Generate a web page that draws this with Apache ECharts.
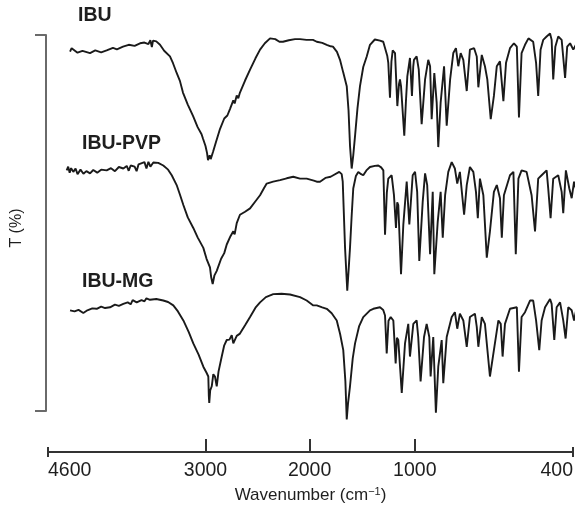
<!DOCTYPE html>
<html>
<head>
<meta charset="utf-8">
<script src="https://cdn.jsdelivr.net/npm/echarts@6/dist/echarts.min.js"></script>
<style>html,body{margin:0;padding:0;background:#fff}#c{width:584px;height:509px}</style>
</head>
<body>
<div id="c"></div>
<script>
// ---- DATA: [wavenumber (cm-1), T (%) incl. stacking offset] ----
const ibuSpectrum = [[4376,95.6],[4360,96.5],[4343,96.1],[4300,95.3],[4250,95.8],[4173,95.2],[4120,95.9],[4060,95.4],[4004,95.9],[3940,96.6],[3900,96.2],[3838,96.9],[3780,97.4],[3720,97.1],[3665,97.8],[3620,98.0],[3580,97.6],[3560,98.6],[3545,96.8],[3533,98.5],[3500,98.3],[3462,97.4],[3420,95.8],[3361,94.3],[3330,92.5],[3293,89.9],[3260,87.8],[3229,84.7],[3180,81.5],[3127,78.5],[3080,75.5],[3040,73.6],[3025,72.4],[3000,70.5],[2985,68.6],[2976,66.7],[2960,68.0],[2950,67.0],[2928,68.9],[2900,71.5],[2861,75.0],[2820,77.8],[2790,78.6],[2765,80.3],[2733,82.6],[2720,81.8],[2700,83.9],[2685,83.2],[2669,84.7],[2620,87.9],[2572,90.8],[2520,93.8],[2476,96.1],[2430,97.8],[2380,99.1],[2330,98.9],[2290,98.2],[2256,98.2],[2200,98.6],[2140,98.9],[2092,98.9],[2030,98.7],[1968,98.7],[1932,98.2],[1880,97.9],[1837,97.4],[1800,97.0],[1778,96.9],[1740,95.5],[1711,93.4],[1680,90.0],[1647,86.4],[1630,80.0],[1616,70.6],[1600,64.5],[1585,68.0],[1568,73.2],[1545,80.5],[1521,86.4],[1490,91.5],[1457,94.3],[1426,97.4],[1380,98.8],[1331,98.5],[1300,98.2],[1283,97.8],[1262,94.5],[1252,92.6],[1236,83.3],[1222,93.0],[1210,95.9],[1188,95.2],[1166,81.1],[1150,87.0],[1141,88.2],[1131,86.4],[1100,73.2],[1085,82.0],[1071,89.0],[1046,93.9],[1027,83.8],[1015,91.5],[1008,93.4],[993,94.3],[985,90.8],[974,76.3],[961,88.2],[949,93.4],[942,91.7],[936,77.6],[926,89.9],[917,82.0],[911,70.2],[902,82.0],[889,91.7],[879,75.9],[866,88.2],[854,95.2],[844,96.5],[835,91.7],[826,95.2],[816,93.4],[803,85.1],[791,96.1],[775,96.5],[765,94.3],[759,86.1],[746,94.7],[734,91.7],[725,88.2],[712,77.6],[700,83.8],[689,91.7],[677,93.0],[664,82.4],[654,92.6],[639,96.5],[624,97.8],[613,96.9],[605,78.1],[595,95.2],[582,97.4],[569,99.1],[551,98.2],[540,92.6],[532,83.8],[523,96.1],[513,98.7],[500,99.6],[487,100.4],[481,98.7],[475,88.2],[467,96.9],[456,99.6],[443,98.7],[430,88.6],[422,96.9],[411,97.8],[399,96.1],[386,97.8],[371,95.6],[361,89.9]];

const ibuPvpSpectrum = [[4410,64.0],[4395,65.0],[4380,63.4],[4365,64.6],[4343,63.6],[4320,64.5],[4300,63.0],[4270,64.2],[4240,63.1],[4210,63.8],[4173,63.2],[4140,64.1],[4100,63.4],[4060,64.2],[4004,64.0],[3960,64.6],[3920,63.8],[3880,64.9],[3835,64.5],[3800,65.2],[3780,63.9],[3760,65.3],[3720,65.0],[3700,63.8],[3680,65.6],[3665,65.3],[3620,66.2],[3600,64.5],[3580,66.3],[3560,65.0],[3530,66.1],[3480,66.0],[3429,65.3],[3380,64.2],[3343,62.7],[3293,60.1],[3260,57.6],[3225,54.8],[3180,51.5],[3124,48.7],[3080,46.2],[3022,43.4],[2990,40.5],[2957,38.2],[2945,35.5],[2931,33.8],[2915,36.0],[2892,37.3],[2850,40.5],[2820,42.0],[2796,44.3],[2760,46.5],[2733,47.8],[2720,47.0],[2700,50.0],[2669,52.2],[2620,53.0],[2572,53.9],[2520,55.8],[2476,57.4],[2440,59.2],[2412,60.5],[2350,61.0],[2284,61.4],[2220,61.9],[2157,62.3],[2092,61.8],[2028,61.8],[1960,61.3],[1932,61.0],[1901,61.0],[1850,62.0],[1800,62.3],[1775,62.7],[1718,63.6],[1695,63.0],[1685,61.0],[1663,43.4],[1642,32.0],[1628,38.0],[1616,43.4],[1600,52.0],[1585,59.2],[1560,62.5],[1537,63.6],[1510,63.0],[1490,62.7],[1460,64.0],[1426,64.9],[1380,65.2],[1347,65.3],[1320,64.8],[1299,64.0],[1283,46.9],[1266,58.0],[1252,61.8],[1220,62.7],[1198,57.4],[1179,48.7],[1167,55.5],[1157,54.8],[1131,36.4],[1109,49.6],[1077,61.0],[1052,49.6],[1020,62.7],[999,63.6],[991,58.3],[983,39.9],[970,55.7],[961,63.2],[953,60.1],[942,41.7],[932,58.3],[926,36.4],[913,50.4],[902,58.3],[894,46.1],[885,57.4],[873,63.6],[860,66.2],[848,64.5],[839,60.5],[829,63.6],[813,52.2],[803,60.1],[791,64.9],[778,63.6],[768,58.3],[761,51.3],[753,61.8],[740,57.4],[727,40.8],[715,47.8],[700,58.3],[689,60.1],[677,56.6],[670,46.1],[662,57.4],[639,62.7],[626,63.6],[617,41.7],[607,61.8],[595,64.0],[576,63.6],[557,57.4],[544,47.8],[532,61.8],[519,62.7],[500,64.0],[494,59.2],[485,51.3],[475,61.8],[456,62.7],[443,58.3],[437,52.6],[427,64.0],[414,59.2],[405,56.6],[396,61.0],[386,58.3],[373,53.9],[361,55.7]];

const ibuMgSpectrum = [[4376,26.8],[4330,26.5],[4290,26.9],[4241,26.1],[4200,26.8],[4150,27.3],[4105,27.2],[4060,27.8],[4020,27.4],[3970,27.6],[3920,28.3],[3880,28.0],[3835,28.5],[3790,28.9],[3760,28.4],[3740,29.5],[3699,28.9],[3650,29.5],[3620,29.2],[3600,30.0],[3564,29.6],[3500,29.8],[3429,29.4],[3380,29.0],[3327,28.1],[3280,26.5],[3225,24.1],[3170,21.0],[3124,18.0],[3070,15.0],[3022,11.8],[2990,10.2],[2973,9.2],[2968,4.0],[2964,2.2],[2955,5.5],[2940,6.6],[2925,9.8],[2909,9.2],[2892,6.6],[2875,10.5],[2844,14.5],[2820,17.5],[2796,18.9],[2770,19.0],[2748,20.2],[2733,18.0],[2700,20.0],[2669,20.6],[2620,22.8],[2572,25.0],[2520,27.5],[2476,28.9],[2420,30.3],[2349,31.1],[2270,31.2],[2188,31.0],[2092,30.3],[2028,29.4],[1965,28.1],[1932,28.1],[1880,27.6],[1837,27.2],[1790,26.0],[1742,24.1],[1710,20.5],[1680,16.2],[1660,8.0],[1647,-2.2],[1635,2.0],[1616,6.6],[1590,14.0],[1568,18.0],[1530,22.5],[1490,25.0],[1426,26.8],[1394,27.2],[1331,27.6],[1300,26.9],[1283,25.4],[1267,15.3],[1250,24.0],[1229,25.0],[1204,24.1],[1182,12.7],[1170,19.5],[1157,18.9],[1124,4.8],[1093,18.0],[1062,23.2],[1046,14.5],[1014,23.2],[993,24.1],[987,19.7],[978,7.9],[965,19.7],[955,23.2],[945,19.7],[940,9.2],[930,19.7],[920,-0.4],[911,11.8],[898,18.9],[892,7.4],[879,19.7],[860,25.0],[848,26.3],[839,21.9],[829,25.9],[816,24.1],[803,17.1],[791,25.0],[772,25.9],[765,22.4],[759,17.1],[746,25.0],[734,23.2],[715,9.2],[702,15.3],[683,24.1],[674,23.2],[667,14.5],[658,23.2],[639,27.2],[613,27.6],[605,10.5],[595,25.0],[582,26.3],[563,29.4],[551,29.4],[540,24.1],[528,16.2],[519,24.1],[506,27.6],[487,29.8],[481,28.5],[471,18.9],[462,27.6],[449,28.9],[437,24.1],[428,19.3],[418,27.6],[405,26.8],[396,24.1],[386,27.6],[378,24.1],[371,27.2]];

const seriesNames = ['IBU', 'IBU-PVP', 'IBU-MG'];
const tickLabels = [4600, 3000, 2000, 1000, 400];

// ---- SCALE: the original axis is piecewise linear; relative axis length of each labelled point ----
const scaleStops = [0, 157.5, 261.6, 366.8, 525];

function warp(wn) {
  const w = tickLabels, s = scaleStops;
  let i = 0;
  while (i < w.length - 2 && wn < w[i + 1]) i++;
  return s[i] + (w[i] - wn) * (s[i + 1] - s[i]) / (w[i] - w[i + 1]);
}
const toXY = arr => arr.map(p => [warp(p[0]), p[1]]);
const tickPos = tickLabels.map(warp);
const innerTicks = tickPos.slice(1, -1);
const endTicks = [tickPos[0], tickPos[tickPos.length - 1]];

const chart = echarts.init(document.getElementById('c'), null, {renderer: 'canvas'});
const txt = '#1e1e1e';
const baseX = {
  type: 'value', gridIndex: 0, position: 'bottom', offset: 41,
  min: tickPos[0], max: tickPos[tickPos.length - 1],
  splitLine: {show: false}, axisLabel: {show: false}, axisLine: {show: false, onZero: false}
};
const lineSeries = (name, arr) => ({
  name, type: 'line', data: toXY(arr), showSymbol: false, clip: false,
  xAxisIndex: 0, yAxisIndex: 0,
  lineStyle: {color: '#1a1a1a', width: 1.9}, animation: false
});
const labelStyle = {fontFamily: 'Liberation Sans', fontSize: 19.5, fontWeight: 'bold', color: txt};

chart.setOption({
  backgroundColor: '#fff',
  animation: false,
  title: [
    {text: seriesNames[0], left: 78, top: 6, padding: 0, textStyle: labelStyle},
    {text: seriesNames[1], left: 82, top: 134, padding: 0, textStyle: labelStyle},
    {text: seriesNames[2], left: 82, top: 272, padding: 0, textStyle: labelStyle}
  ],
  grid: {left: 48, right: 11, top: 35, bottom: 91, containLabel: false},
  xAxis: [
    Object.assign({}, baseX, {
      axisLine: {show: true, onZero: false, lineStyle: {color: '#333', width: 2}},
      axisTick: {show: true, inside: true, length: 13, customValues: innerTicks, lineStyle: {color: '#333', width: 2}},
      axisLabel: {
        show: true, customValues: tickPos, margin: 9, alignMinLabel: 'left', alignMaxLabel: 'right',
        fontFamily: 'Liberation Sans', fontSize: 19.5, color: txt,
        formatter: v => { const i = tickPos.findIndex(p => Math.abs(p - v) < 0.01); return i >= 0 ? String(tickLabels[i]) : ''; }
      },
      name: 'Wavenumber (cm{sup|−1})', nameLocation: 'middle', nameGap: 31,
      nameTextStyle: {fontFamily: 'Liberation Sans', fontSize: 17, color: txt,
        rich: {sup: {fontFamily: 'Liberation Sans', fontSize: 11, color: txt, verticalAlign: 'top', padding: [0, 0, 8, 0]}}}
    }),
    Object.assign({}, baseX, {
      axisTick: {show: true, inside: false, length: 5, customValues: endTicks, lineStyle: {color: '#333', width: 2}}
    }),
    Object.assign({}, baseX, {
      axisTick: {show: true, inside: true, length: 5, customValues: endTicks, lineStyle: {color: '#333', width: 2}}
    })
  ],
  yAxis: {
    type: 'value', min: 0, max: 100, interval: 100, offset: 2,
    splitLine: {show: false},
    axisLine: {show: true, onZero: false, lineStyle: {color: '#6a6a6a', width: 2}},
    axisTick: {show: true, length: 11, lineStyle: {color: '#6a6a6a', width: 2}},
    axisLabel: {show: false},
    name: 'T (%)', nameLocation: 'middle', nameGap: 21,
    nameTextStyle: {fontFamily: 'Liberation Sans', fontSize: 16, color: txt, padding: [0, 0, 0, -10]}
  },
  series: [
    lineSeries(seriesNames[0], ibuSpectrum),
    lineSeries(seriesNames[1], ibuPvpSpectrum),
    lineSeries(seriesNames[2], ibuMgSpectrum)
  ]
});
</script>
</body>
</html>
